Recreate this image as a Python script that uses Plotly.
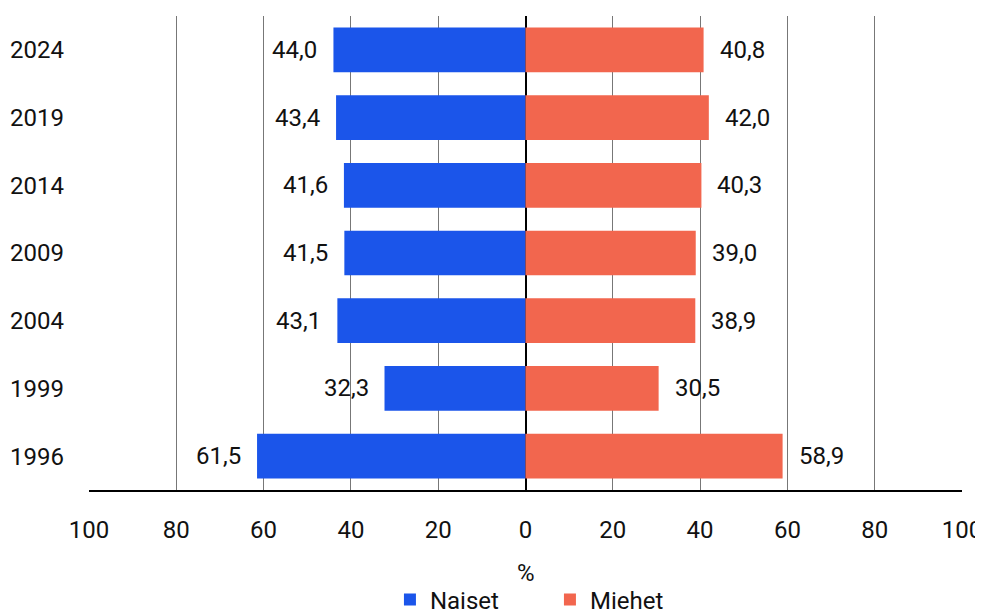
import plotly.graph_objects as go

years = ["1996", "1999", "2004", "2009", "2014", "2019", "2024"]
naiset = [61.5, 32.3, 43.1, 41.5, 41.6, 43.4, 44.0]
miehet = [58.9, 30.5, 38.9, 39.0, 40.3, 42.0, 40.8]
tick_vals = [-100, -80, -60, -40, -20, 0, 20, 40, 60, 80, 100]
tick_text = ["100", "80", "60", "40", "20", "0", "20", "40", "60", "80", "100"]
x_title = "%"

BLUE = "#1B55EA"
RED = "#F2664E"
FONT = "Roboto"
FS = 24

def fmt(v):
    return f"{v:.1f}".replace(".", ",")

fig = go.Figure()
fig.add_trace(go.Bar(
    y=years, x=[-v for v in naiset], orientation="h", name="Naiset",
    marker=dict(color=BLUE, line=dict(width=0)), width=0.66,
    hoverinfo="skip",
))
fig.add_trace(go.Bar(
    y=years, x=miehet, orientation="h", name="Miehet",
    marker=dict(color=RED, line=dict(width=0)), width=0.66,
    hoverinfo="skip",
))

annotations = []
for i, v in enumerate(naiset):
    annotations.append(dict(x=-v, y=i, text=fmt(v), showarrow=False,
                            xanchor="right", xshift=-14,
                            font=dict(family=FONT, size=FS, color="#111")))
for i, v in enumerate(miehet):
    annotations.append(dict(x=v, y=i, text=fmt(v), showarrow=False,
                            xanchor="left", xshift=14,
                            font=dict(family=FONT, size=FS, color="#111")))
annotations.append(dict(x=0, xref="x", y=0, yref="paper", yshift=-83,
                        text=x_title, showarrow=False,
                        xanchor="center", yanchor="middle",
                        font=dict(family=FONT, size=FS, color="#111")))

fig.update_layout(
    width=983, height=604,
    margin=dict(l=81, r=29, t=8, b=122),
    barmode="relative",
    plot_bgcolor="white", paper_bgcolor="white",
    font=dict(family=FONT, size=FS, color="#111"),
    annotations=annotations,
    showlegend=True,
    legend=dict(orientation="h", x=0.528, xanchor="center",
                yref="container", y=0.02, yanchor="middle",
                font=dict(family=FONT, size=FS, color="#111"),
                entrywidth=115, traceorder="normal"),
    xaxis=dict(
        range=[-100, 100], tickvals=tick_vals, ticktext=tick_text,
        showgrid=True, gridcolor="#777", gridwidth=1,
        zeroline=True, zerolinecolor="#000", zerolinewidth=2,
        showline=True, linecolor="#000", linewidth=2,
        ticks="", ticklabelstandoff=17, automargin=False,
        ticklabeloverflow="allow",
        fixedrange=True,
    ),
    yaxis=dict(
        type="category", categoryorder="array", categoryarray=years,
        range=[-0.5, len(years) - 0.5],
        showgrid=False, ticks="", showline=False, automargin=False,
        ticklabelstandoff=24, fixedrange=True,
    ),
)

fig.write_html("out.html")
